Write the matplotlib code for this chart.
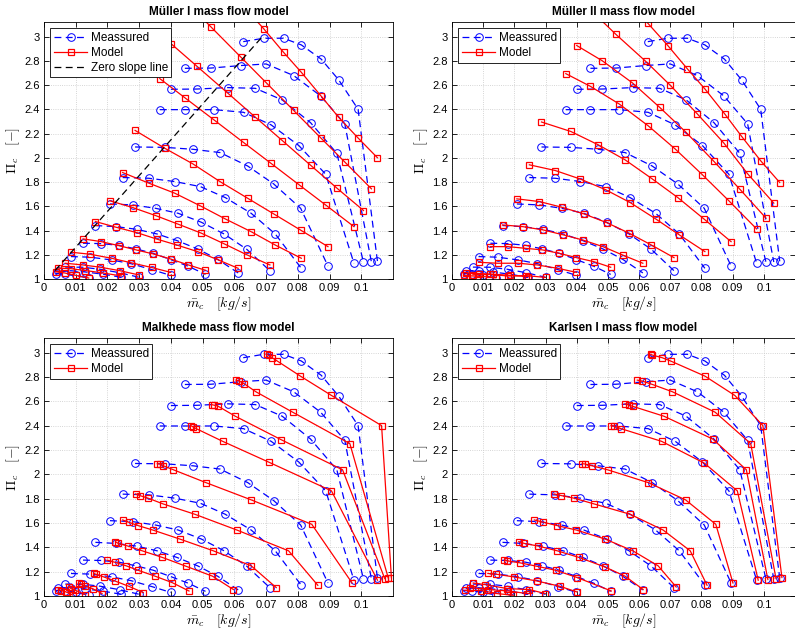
import numpy as np
import matplotlib
matplotlib.use('Agg')
import matplotlib.pyplot as plt
from matplotlib.ticker import FormatStrFormatter, MultipleLocator

plt.rcParams['font.family'] = ['Liberation Sans', 'DejaVu Sans']
plt.rcParams['mathtext.fontset'] = 'cm'

# Measured speed lines (mass flow [kg/s], pressure ratio [-])
meas_mdot = [
    [0.0628, 0.0692, 0.0755, 0.0811, 0.0874, 0.0929, 0.0990, 0.1051],
    [0.0444, 0.0526, 0.0621, 0.0700, 0.0787, 0.0872, 0.0948, 0.1032],
    [0.0400, 0.0482, 0.0579, 0.0666, 0.0751, 0.0840, 0.0923, 0.1007],
    [0.0365, 0.0444, 0.0536, 0.0629, 0.0716, 0.0803, 0.0888, 0.0977],
    [0.0287, 0.0381, 0.0469, 0.0555, 0.0642, 0.0724, 0.0809, 0.0895],
    [0.0248, 0.0331, 0.0412, 0.0493, 0.0571, 0.0653, 0.0729, 0.0811],
    [0.0208, 0.0280, 0.0352, 0.0423, 0.0496, 0.0568, 0.0639, 0.0712],
    [0.0162, 0.0227, 0.0292, 0.0357, 0.0419, 0.0484, 0.0547, 0.0612],
    [0.0123, 0.0179, 0.0236, 0.0290, 0.0344, 0.0399, 0.0455, 0.0509],
    [0.0085, 0.0146, 0.0213, 0.0273, 0.0339, 0.0399],
    [0.0067, 0.0122, 0.0178, 0.0238, 0.0300],
    [0.0045, 0.0085, 0.0130, 0.0185, 0.0244],
    [0.0037, 0.0065, 0.0100, 0.0141],
]
meas_pr = [
    [2.958, 2.986, 2.986, 2.931, 2.813, 2.642, 2.400, 1.146],
    [2.738, 2.740, 2.761, 2.774, 2.678, 2.510, 2.280, 1.140],
    [2.565, 2.567, 2.579, 2.573, 2.477, 2.290, 2.037, 1.138],
    [2.397, 2.397, 2.397, 2.375, 2.271, 2.101, 1.864, 1.130],
    [2.089, 2.086, 2.070, 2.043, 1.932, 1.784, 1.583, 1.107],
    [1.837, 1.831, 1.804, 1.762, 1.672, 1.542, 1.371, 1.088],
    [1.619, 1.611, 1.583, 1.542, 1.468, 1.371, 1.245, 1.068],
    [1.441, 1.432, 1.410, 1.371, 1.317, 1.248, 1.163, 1.050],
    [1.295, 1.292, 1.278, 1.248, 1.212, 1.160, 1.105, 1.038],
    [1.185, 1.180, 1.157, 1.127, 1.078, 1.030],
    [1.098, 1.097, 1.080, 1.052, 1.014],
    [1.065, 1.068, 1.058, 1.040, 1.014],
    [1.045, 1.045, 1.030, 1.006],
]

# Mueller I / II models are evaluated at the measured mass flows
mueller1_pr = [
    [3.250, 3.066, 2.870, 2.705, 2.507, 2.333, 2.163, 2.000],
    [3.300, 3.080, 2.829, 2.620, 2.390, 2.165, 1.965, 1.744],
    [2.942, 2.755, 2.534, 2.335, 2.142, 1.939, 1.750, 1.565],
    [2.653, 2.495, 2.312, 2.126, 1.953, 1.779, 1.610, 1.432],
    [2.226, 2.078, 1.950, 1.803, 1.666, 1.537, 1.403, 1.267],
    [1.878, 1.790, 1.708, 1.603, 1.496, 1.390, 1.280, 1.171],
    [1.645, 1.589, 1.523, 1.452, 1.378, 1.290, 1.200, 1.116],
    [1.474, 1.427, 1.383, 1.328, 1.280, 1.226, 1.160, 1.088],
    [1.331, 1.309, 1.275, 1.240, 1.207, 1.165, 1.116, 1.072],
    [1.221, 1.204, 1.171, 1.135, 1.095, 1.055],
    [1.130, 1.116, 1.097, 1.069, 1.033],
    [1.090, 1.085, 1.070, 1.050, 1.025],
    [1.060, 1.050, 1.030, 1.008],
]
mueller2_pr = [
    [3.110, 2.926, 2.733, 2.568, 2.364, 2.176, 1.975, 1.796],
    [3.220, 3.017, 2.796, 2.598, 2.361, 2.121, 1.868, 1.626],
    [2.926, 2.800, 2.617, 2.416, 2.209, 1.970, 1.741, 1.502],
    [2.694, 2.589, 2.444, 2.264, 2.072, 1.860, 1.645, 1.413],
    [2.295, 2.217, 2.107, 1.983, 1.826, 1.672, 1.493, 1.308],
    [1.942, 1.895, 1.824, 1.736, 1.631, 1.496, 1.364, 1.226],
    [1.661, 1.639, 1.592, 1.537, 1.465, 1.378, 1.281, 1.176],
    [1.446, 1.432, 1.405, 1.364, 1.322, 1.267, 1.198, 1.130],
    [1.267, 1.267, 1.253, 1.240, 1.212, 1.176, 1.143, 1.097],
    [1.138, 1.130, 1.130, 1.116, 1.088, 1.055],
    [1.035, 1.038, 1.025, 1.028, 1.013],
    [1.050, 1.045, 1.040, 1.030, 1.020],
    [1.030, 1.025, 1.020, 1.010],
]

# Malkhede model
malkhede_mdot = [
    [0.0702, 0.0708, 0.0719, 0.0735, 0.0808, 0.0906, 0.1064, 0.1095],
    [0.0605, 0.0616, 0.0631, 0.0668, 0.0784, 0.0964, 0.1085],
    [0.0528, 0.0536, 0.0547, 0.0603, 0.0747, 0.0941, 0.1074],
    [0.0463, 0.0470, 0.0480, 0.0563, 0.0710, 0.0906, 0.1051],
    [0.0357, 0.0365, 0.0376, 0.0408, 0.0510, 0.0653, 0.0844, 0.0971],
    [0.0289, 0.0302, 0.0328, 0.0375, 0.0475, 0.0608, 0.0771, 0.0863],
    [0.0248, 0.0267, 0.0297, 0.0343, 0.0428, 0.0534, 0.0653, 0.0732],
    [0.0225, 0.0234, 0.0265, 0.0310, 0.0373, 0.0447, 0.0531, 0.0597],
    [0.0199, 0.0225, 0.0259, 0.0296, 0.0350, 0.0404, 0.0457],
    [0.0157, 0.0164, 0.0188, 0.0223, 0.0267, 0.0313],
    [0.0109, 0.0118, 0.0130, 0.0153, 0.0183],
    [0.0080, 0.0085, 0.0099, 0.0130],
    [0.0045, 0.0055, 0.0068, 0.0090],
]
malkhede_pr = [
    [2.986, 2.978, 2.958, 2.931, 2.807, 2.648, 2.400, 1.150],
    [2.774, 2.766, 2.744, 2.678, 2.510, 2.252, 1.149],
    [2.573, 2.568, 2.562, 2.477, 2.285, 2.037, 1.143],
    [2.400, 2.389, 2.375, 2.271, 2.098, 1.864, 1.130],
    [2.087, 2.085, 2.070, 2.037, 1.932, 1.790, 1.589, 1.107],
    [1.839, 1.825, 1.804, 1.757, 1.672, 1.542, 1.371, 1.088],
    [1.625, 1.606, 1.578, 1.542, 1.468, 1.371, 1.248, 1.069],
    [1.446, 1.432, 1.410, 1.371, 1.317, 1.245, 1.163, 1.053],
    [1.295, 1.276, 1.248, 1.212, 1.163, 1.110, 1.041],
    [1.185, 1.179, 1.157, 1.124, 1.080, 1.028],
    [1.107, 1.096, 1.080, 1.061, 1.020],
    [1.074, 1.061, 1.047, 1.012],
    [1.050, 1.045, 1.035, 1.008],
]

# Karlsen I model
karlsen_mdot = [
    [0.0637, 0.0642, 0.0674, 0.0701, 0.0811, 0.0907, 0.0997, 0.1058],
    [0.0594, 0.0610, 0.0643, 0.0707, 0.0844, 0.0958, 0.1039],
    [0.0555, 0.0568, 0.0579, 0.0680, 0.0836, 0.0944, 0.1013],
    [0.0510, 0.0518, 0.0542, 0.0672, 0.0809, 0.0915, 0.0982],
    [0.0417, 0.0426, 0.0449, 0.0499, 0.0629, 0.0749, 0.0846, 0.0901],
    [0.0327, 0.0351, 0.0391, 0.0455, 0.0571, 0.0677, 0.0764, 0.0818],
    [0.0264, 0.0293, 0.0338, 0.0399, 0.0491, 0.0580, 0.0661, 0.0719],
    [0.0214, 0.0232, 0.0277, 0.0338, 0.0407, 0.0490, 0.0555, 0.0613],
    [0.0168, 0.0176, 0.0219, 0.0271, 0.0332, 0.0401, 0.0511],
    [0.0115, 0.0142, 0.0198, 0.0271, 0.0346, 0.0401],
    [0.0068, 0.0105, 0.0177, 0.0248, 0.0299],
    [0.0058, 0.0117, 0.0181, 0.0241],
    [0.0041, 0.0094, 0.0144, 0.0197],
]
karlsen_pr = [
    [2.986, 2.980, 2.958, 2.931, 2.807, 2.648, 2.400, 1.152],
    [2.774, 2.766, 2.738, 2.678, 2.510, 2.252, 1.143],
    [2.579, 2.568, 2.559, 2.477, 2.290, 2.037, 1.135],
    [2.400, 2.397, 2.375, 2.271, 2.092, 1.864, 1.130],
    [2.087, 2.085, 2.070, 2.037, 1.932, 1.790, 1.589, 1.107],
    [1.839, 1.825, 1.804, 1.757, 1.672, 1.542, 1.371, 1.088],
    [1.625, 1.606, 1.578, 1.542, 1.468, 1.371, 1.248, 1.074],
    [1.446, 1.432, 1.410, 1.371, 1.317, 1.239, 1.163, 1.053],
    [1.295, 1.289, 1.272, 1.245, 1.212, 1.152, 1.041],
    [1.185, 1.179, 1.157, 1.124, 1.080, 1.033],
    [1.107, 1.094, 1.061, 1.053, 1.020],
    [1.069, 1.053, 1.041, 1.020],
    [1.047, 1.045, 1.020, 1.006],
]

zero_slope_mdot = [0.0035, 0.0685]
zero_slope_pr = [1.07, 2.99]

titles = ['Müller I mass flow model', 'Müller II mass flow model',
          'Malkhede mass flow model', 'Karlsen I mass flow model']
models = [(meas_mdot, mueller1_pr), (meas_mdot, mueller2_pr),
          (malkhede_mdot, malkhede_pr), (karlsen_mdot, karlsen_pr)]

W, H = 795, 636
fig = plt.figure(figsize=(W / 100, H / 100), dpi=100)
# axes boxes in pixels: left, right, top, bottom
boxes = [(44, 393, 22, 279), (452, 795, 22, 279),
         (44, 393, 338, 596), (452, 795, 338, 596)]

blue = '#0000ff'
red = '#ff0000'

for k, (l, r, t, b) in enumerate(boxes):
    ax = fig.add_axes([l / W, 1 - b / H, (r - l) / W, (b - t) / H])
    mx, my = models[k]
    for i in range(len(meas_mdot)):
        hm, = ax.plot(meas_mdot[i], meas_pr[i], color=blue, ls=(0, (5.5, 3.5)), lw=0.9,
                      marker='o', ms=5.5, mfc='none', mew=0.7)
    for i in range(len(mx)):
        hr, = ax.plot(mx[i], my[i], color=red, ls='-', lw=0.9,
                      marker='s', ms=4.5, mfc='none', mew=0.9)
    handles = [hm, hr]
    labels = ['Meassured', 'Model']
    if k == 0:
        hz, = ax.plot(zero_slope_mdot, zero_slope_pr, color='k', ls=(0, (5.5, 3.5)), lw=0.9)
        handles.append(hz)
        labels.append('Zero slope line')

    ax.set_xlim(0, 0.11)
    ax.set_ylim(1, 3.12)
    ax.set_xticks(np.arange(0, 0.1001, 0.01))
    ax.yaxis.set_major_locator(MultipleLocator(0.2))
    ax.xaxis.set_major_formatter(FormatStrFormatter('%g'))
    ax.yaxis.set_major_formatter(FormatStrFormatter('%g'))
    ax.tick_params(direction='in', top=True, right=True, labelsize=8,
                   length=3.5, width=0.6, pad=3)
    ax.grid(True, ls=':', color='#c8c8c8', lw=0.6)
    for s in ax.spines.values():
        s.set_linewidth(0.6)
    ax.set_title(titles[k], fontsize=8.5, fontweight='bold', pad=5)
    ax.set_xlabel(r'$\bar{m}_c\quad[kg/s]$', fontsize=10, labelpad=1)
    ax.set_ylabel(r'$\Pi_c\quad[-]$', fontsize=10)
    ax.yaxis.set_label_coords(-22 / (r - l), 0.5)
    leg = ax.legend(handles, labels, loc='upper left', fontsize=8.5, fancybox=False,
                    edgecolor='k', framealpha=1, borderpad=0.3, labelspacing=0.25,
                    handlelength=2.8, handletextpad=0.3, borderaxespad=0.55)
    leg.get_frame().set_linewidth(0.6)

fig.savefig('out.png', dpi=100)
